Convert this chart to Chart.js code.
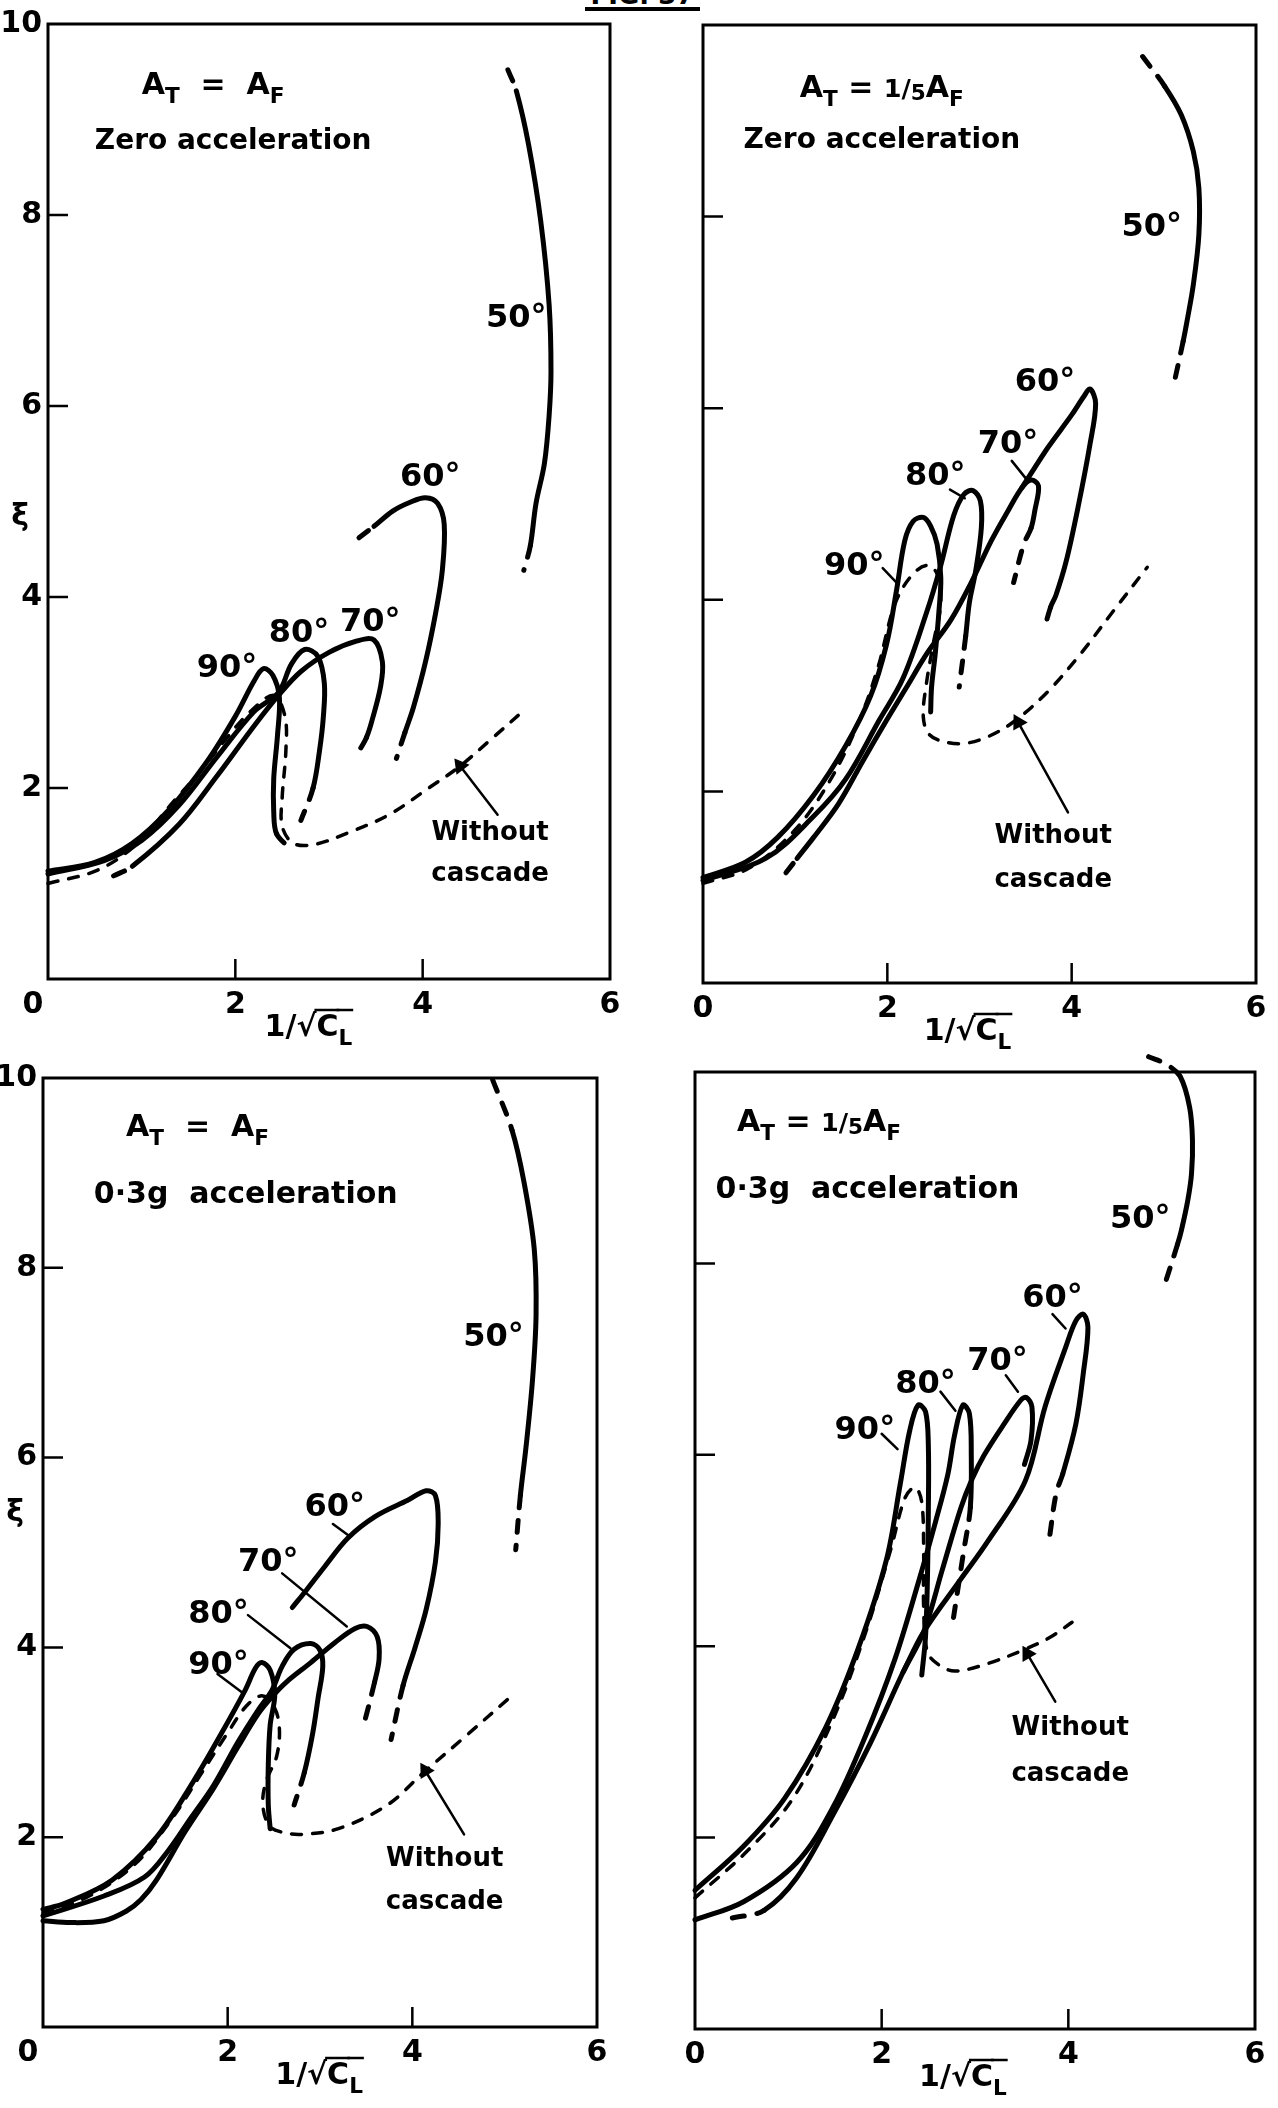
<!DOCTYPE html>
<html lang="en">
<head>
    <meta charset="UTF-8">
    <title>Cascade curves</title>
    <script src="https://cdn.jsdelivr.net/npm/chart.js"></script>
    <style>
        body { margin: 0; background: #fff; width: 1278px; height: 2108px; position: relative; overflow: hidden; }
        .panel { position: absolute; width: 639px; height: 1054px; }
        #figHead {
            position: absolute; left: 585px; top: -17px; width: 115px; height: 24px;
            font: bold 26px "DejaVu Sans", sans-serif; line-height: 24px; text-align: center;
            border-bottom: 4px solid #000;
        }
    </style>
</head>
<body>
    <div id="figHead">FIG. 37</div>
    <div class="panel" style="left:0;top:0"><canvas id="tl"></canvas></div>
    <div class="panel" style="left:639px;top:0"><canvas id="tr"></canvas></div>
    <div class="panel" style="left:0;top:1054px"><canvas id="bl"></canvas></div>
    <div class="panel" style="left:639px;top:1054px"><canvas id="br"></canvas></div>

    <script>
        // ---- axis ticks ----
        const xTicks = [0, 2, 4, 6];
        const yTicks = [0, 2, 4, 6, 8, 10];

        // ---- A_T = A_F, zero acceleration (top left) ----
        const tl90 = [[0,1.13],[0.5,1.22],[0.9,1.42],[1.3,1.78],[1.7,2.28],[2.0,2.75],[2.2,3.12],[2.3,3.25],[2.4,3.18],[2.47,2.95],[2.45,2.55],[2.41,2.1],[2.41,1.75],[2.44,1.52],[2.58,1.37]];
        const tl80 = [[0,1.1],[0.6,1.24],[1.0,1.45],[1.4,1.82],[1.8,2.32],[2.2,2.8],[2.46,3.0],[2.6,3.3],[2.74,3.45],[2.88,3.38],[2.95,3.1],[2.94,2.75],[2.9,2.4],[2.83,2.0],[2.7,1.66]];
        const tl70 = [[0.7,1.08],[0.9,1.18],[1.4,1.62],[1.8,2.12],[2.2,2.65],[2.46,2.97],[2.7,3.22],[3.0,3.42],[3.3,3.54],[3.48,3.55],[3.57,3.32],[3.55,3.06],[3.46,2.71],[3.4,2.53],[3.31,2.37]];
        const tl60 = [[3.32,4.62],[3.48,4.74],[3.68,4.9],[3.86,4.99],[4.03,5.04],[4.16,4.98],[4.23,4.76],[4.21,4.28],[4.14,3.84],[4.03,3.32],[3.9,2.84],[3.81,2.58],[3.72,2.31]];
        const tl50 = [[4.91,9.52],[5.0,9.3],[5.13,8.74],[5.26,7.94],[5.35,7.06],[5.37,6.36],[5.35,5.9],[5.3,5.4],[5.21,4.98],[5.15,4.54],[5.08,4.28]];
        const tlFree = [[0,1.0],[0.53,1.14],[0.93,1.4],[1.36,1.88],[1.63,2.18],[1.93,2.55],[2.15,2.79],[2.41,2.97],[2.53,2.75],[2.54,2.4],[2.5,1.9],[2.5,1.6],[2.62,1.42],[2.85,1.41],[3.2,1.53],[3.64,1.72],[4.08,2.01],[4.4,2.23],[4.73,2.51],[5.02,2.76]];

        // ---- A_T = 1/5 A_F, zero acceleration (top right) ----
        const tr90 = [[0,1.1],[0.46,1.26],[0.81,1.52],[1.2,1.96],[1.55,2.48],[1.82,3.0],[1.99,3.53],[2.1,4.1],[2.19,4.62],[2.28,4.82],[2.39,4.86],[2.47,4.77],[2.54,4.58],[2.58,4.23],[2.56,3.88],[2.52,3.44],[2.48,3.09],[2.47,2.83]];
        const tr80 = [[0,1.07],[0.68,1.3],[1.2,1.74],[1.55,2.13],[1.91,2.74],[2.17,3.18],[2.43,3.88],[2.58,4.36],[2.72,4.88],[2.83,5.1],[2.93,5.14],[3.01,5.03],[3.02,4.75],[2.96,4.31],[2.89,3.97],[2.85,3.62],[2.78,3.09]];
        const tr70 = [[0.9,1.15],[1.02,1.3],[1.2,1.52],[1.47,1.87],[1.73,2.31],[1.99,2.74],[2.21,3.09],[2.43,3.44],[2.69,3.79],[2.91,4.18],[3.13,4.62],[3.31,4.93],[3.46,5.17],[3.56,5.25],[3.64,5.19],[3.6,4.93],[3.56,4.75],[3.48,4.58],[3.37,4.18]];
        const tr60 = [[3.46,5.17],[3.6,5.38],[3.75,5.6],[4.0,5.93],[4.13,6.12],[4.2,6.2],[4.26,6.05],[4.2,5.63],[4.07,4.97],[3.94,4.4],[3.83,4.05],[3.77,3.92],[3.7,3.68]];
        const tr50 = [[4.77,9.67],[5.01,9.36],[5.19,9.06],[5.32,8.68],[5.38,8.3],[5.38,7.81],[5.32,7.29],[5.25,6.9],[5.21,6.7],[5.12,6.3]];
        const trFree = [[0,1.04],[0.5,1.2],[1.0,1.6],[1.4,2.15],[1.7,2.75],[1.9,3.3],[2.08,3.95],[2.26,4.25],[2.43,4.36],[2.54,4.27],[2.58,3.97],[2.5,3.55],[2.42,3.1],[2.39,2.78],[2.45,2.6],[2.61,2.52],[2.83,2.5],[3.09,2.57],[3.39,2.74],[3.75,3.05],[4.1,3.44],[4.45,3.88],[4.82,4.34]];

        // ---- A_T = A_F, 0.3g acceleration (bottom left) ----
        const bl90 = [[0,1.24],[0.23,1.3],[0.75,1.55],[1.23,2.0],[1.63,2.59],[1.93,3.09],[2.19,3.55],[2.3,3.78],[2.37,3.84],[2.46,3.76],[2.51,3.5],[2.46,3.18],[2.44,2.76],[2.44,2.34],[2.46,2.09]];
        const bl80 = [[0,1.17],[0.66,1.38],[1.1,1.58],[1.35,1.85],[1.6,2.2],[1.85,2.55],[2.11,3.0],[2.33,3.34],[2.48,3.55],[2.59,3.8],[2.72,3.98],[2.9,4.04],[3.0,3.97],[3.03,3.8],[2.98,3.47],[2.92,3.09],[2.83,2.68],[2.72,2.34]];
        const bl70 = [[0,1.12],[0.3,1.1],[0.66,1.12],[0.9,1.22],[1.06,1.34],[1.23,1.55],[1.54,2.06],[1.85,2.52],[2.11,2.95],[2.33,3.3],[2.48,3.48],[2.63,3.63],[2.9,3.84],[3.16,4.05],[3.38,4.2],[3.51,4.22],[3.62,4.11],[3.64,3.88],[3.59,3.63],[3.46,3.13]];
        const bl60 = [[2.7,4.42],[2.85,4.6],[3.05,4.85],[3.3,5.15],[3.6,5.38],[3.95,5.55],[4.15,5.65],[4.25,5.6],[4.28,5.3],[4.25,4.9],[4.15,4.4],[4.03,4.0],[3.9,3.6],[3.77,3.03]];
        const bl50 = [[4.87,9.98],[5.08,9.45],[5.21,8.9],[5.32,8.2],[5.34,7.5],[5.3,6.8],[5.23,6.1],[5.17,5.6],[5.12,5.03]];
        const blFree = [[0,1.2],[0.5,1.38],[1.0,1.72],[1.4,2.2],[1.7,2.65],[2.0,3.1],[2.2,3.38],[2.37,3.49],[2.5,3.38],[2.56,3.15],[2.53,2.85],[2.42,2.6],[2.38,2.35],[2.45,2.12],[2.6,2.05],[2.81,2.03],[3.2,2.09],[3.73,2.34],[4.12,2.68],[4.56,3.05],[5.1,3.51]];

        // ---- A_T = 1/5 A_F, 0.3g acceleration (bottom right) ----
        const br90 = [[0,1.45],[0.52,1.91],[0.96,2.41],[1.4,3.15],[1.75,3.98],[2.05,4.9],[2.2,5.7],[2.3,6.25],[2.39,6.52],[2.47,6.45],[2.5,6.1],[2.5,5.4],[2.49,4.69],[2.47,4.1],[2.43,3.7]];
        const br80 = [[0,1.14],[0.52,1.33],[1.09,1.74],[1.48,2.32],[1.83,3.07],[2.14,3.86],[2.4,4.69],[2.58,5.31],[2.71,5.8],[2.78,6.2],[2.87,6.52],[2.94,6.43],[2.96,6.0],[2.95,5.45],[2.88,5.0],[2.77,4.3]];
        const br70 = [[0.4,1.16],[0.74,1.24],[1.09,1.58],[1.48,2.24],[1.88,2.99],[2.23,3.73],[2.45,4.15],[2.65,4.8],[2.85,5.45],[2.97,5.75],[3.1,6.0],[3.31,6.32],[3.49,6.57],[3.55,6.6],[3.61,6.5],[3.6,6.15],[3.53,5.9]];
        const br60 = [[2.23,3.73],[2.45,4.15],[2.84,4.69],[3.14,5.1],[3.54,5.73],[3.75,6.5],[3.97,7.12],[4.08,7.4],[4.16,7.47],[4.21,7.33],[4.16,6.85],[4.08,6.32],[3.94,5.8],[3.87,5.6],[3.8,5.15]];
        const br50 = [[4.86,10.16],[5.05,10.08],[5.2,9.95],[5.3,9.63],[5.33,9.29],[5.32,8.94],[5.28,8.66],[5.21,8.34],[5.17,8.2],[5.02,7.74]];
        const brFree = [[0,1.37],[0.57,1.87],[1.05,2.41],[1.48,3.24],[1.83,4.15],[2.1,5.02],[2.25,5.55],[2.36,5.66],[2.43,5.5],[2.45,4.98],[2.45,4.4],[2.49,3.94],[2.62,3.8],[2.79,3.74],[3.14,3.82],[3.54,3.97],[3.8,4.09],[4.04,4.25]];

        const FONT = '"DejaVu Sans", "Liberation Sans", sans-serif';
        const AT_AF = [{t: 'A'}, {t: 'T', sub: true}, {t: '  =  '}, {t: 'A'}, {t: 'F', sub: true}];
        const AT_5AF = [{t: 'A'}, {t: 'T', sub: true}, {t: ' = '}, {t: '1/', k: 0.85}, {t: '5', k: 0.72, dy: 0.1}, {t: 'A'}, {t: 'F', sub: true}];
        const X_TITLE = [{t: '1/√'}, {t: 'C', over: true}, {t: 'L', sub: true, over: true}];

        // layout of each plot box inside its 639x1054 panel: top, left (= y axis width), right padding, x axis height
        const panels = [
            {
                id: 'tl', top: 23, yw: 48, pr: 29, xh: 75, yLabels: true, yTitle: 4.87, xTitle: 2.78,
                heads: [{x: 1.0, y: 9.38, parts: AT_AF, size: 30}, {x: 0.5, y: 8.8, parts: [{t: 'Zero acceleration'}], size: 28}],
                curves: [[tl90, 0, 1], [tl80, 0, 1], [tl70, 1, 1], [tl60, 1, 1], [tl50, 1, 1]], free: tlFree,
                angles: [['90°', 1.91, 3.28], ['80°', 2.68, 3.65], ['70°', 3.44, 3.76], ['60°', 4.08, 5.28], ['50°', 5.0, 6.95]],
                leaders: [], arrow: [[4.8, 1.72], [4.4, 2.23]], note: [4.72, 1.55, 1.12]
            },
            {
                id: 'tr', top: 25, yw: 64, pr: 22, xh: 71, yLabels: false, xTitle: 2.87,
                heads: [{x: 1.05, y: 9.36, parts: AT_5AF, size: 30}, {x: 0.44, y: 8.82, parts: [{t: 'Zero acceleration'}], size: 28}],
                curves: [[tr90, 0, 0], [tr80, 0, 1], [tr70, 1, 2], [tr60, 0, 1], [tr50, 1, 1]], free: trFree,
                angles: [['90°', 1.64, 4.38], ['80°', 2.52, 5.32], ['70°', 3.31, 5.65], ['60°', 3.71, 6.3], ['50°', 4.87, 7.92]],
                leaders: [[[1.95, 4.33], [2.1, 4.18]], [[2.68, 5.15], [2.84, 5.06]], [[3.35, 5.45], [3.5, 5.27]]],
                arrow: [[3.96, 1.78], [3.42, 2.72]], note: [3.8, 1.56, 1.1]
            },
            {
                id: 'bl', top: 14, yw: 43, pr: 42, xh: 81, yLabels: true, yTitle: 5.45, xTitle: 2.99,
                heads: [{x: 0.9, y: 9.5, parts: AT_AF, size: 30}, {x: 0.55, y: 8.8, parts: [{t: '0·3g  acceleration'}], size: 30}],
                curves: [[bl90, 0, 0], [bl80, 0, 1], [bl70, 0, 1], [bl60, 0, 1], [bl50, 1, 1]], free: blFree,
                angles: [['90°', 1.9, 3.84], ['80°', 1.9, 4.38], ['70°', 2.44, 4.93], ['60°', 3.16, 5.51], ['50°', 4.88, 7.3]],
                leaders: [[[1.89, 3.72], [2.15, 3.53]], [[2.22, 4.34], [2.68, 3.99]], [[2.59, 4.78], [3.29, 4.22]], [[3.14, 5.3], [3.31, 5.18]]],
                arrow: [[4.56, 2.03], [4.14, 2.7]], note: [4.35, 1.79, 1.34]
            },
            {
                id: 'br', top: 18, yw: 56, pr: 23, xh: 79, yLabels: false, xTitle: 2.87,
                heads: [{x: 0.45, y: 9.5, parts: AT_5AF, size: 30}, {x: 0.22, y: 8.8, parts: [{t: '0·3g  acceleration'}], size: 30}],
                curves: [[br90, 0, 0], [br80, 0, 2], [br70, 1, 0], [br60, 0, 2], [br50, 2, 1]], free: brFree,
                angles: [['90°', 1.82, 6.29], ['80°', 2.47, 6.77], ['70°', 3.24, 7.01], ['60°', 3.83, 7.67], ['50°', 4.77, 8.49]],
                leaders: [[[2.0, 6.22], [2.17, 6.06]], [[2.63, 6.66], [2.79, 6.46]], [[3.33, 6.83], [3.46, 6.66]], [[3.83, 7.47], [3.97, 7.32]]],
                arrow: [[3.86, 3.42], [3.56, 3.92]], note: [4.02, 3.17, 2.69]
            }
        ];

        // text with subscripts / overline, y is the middle of the main letters
        function drawParts(c, parts, x, y, size, align) {
            const items = parts.map(p => {
                const s = size * (p.k || ((p.sub || p.small) ? 0.72 : 1));
                c.font = `bold ${s}px ${FONT}`;
                return {p, s, w: c.measureText(p.t).width};
            });
            const total = items.reduce((a, it) => a + it.w, 0);
            let cx = align === 'center' ? x - total / 2 : x;
            const base = y + size * 0.36;
            c.textAlign = 'left';
            c.textBaseline = 'alphabetic';
            items.forEach(({p, s, w}) => {
                c.font = `bold ${s}px ${FONT}`;
                const dy = p.sub ? 0.3 : (p.dy || 0);
                c.fillText(p.t, cx, base + size * dy);
                if (p.over) {
                    c.lineWidth = 2.5;
                    c.beginPath();
                    c.moveTo(cx - 2, base - size * 0.86);
                    c.lineTo(cx + w + 1, base - size * 0.86);
                    c.stroke();
                }
                cx += w;
            });
        }

        function decor(p) {
            return {
                id: 'decor',
                afterDraw(chart) {
                    const c = chart.ctx, a = chart.chartArea;
                    const xs = chart.scales.x, ys = chart.scales.y;
                    const px = v => xs.getPixelForValue(v), py = v => ys.getPixelForValue(v);
                    c.save();
                    c.strokeStyle = '#000';
                    c.fillStyle = '#000';
                    c.lineWidth = 3;
                    c.strokeRect(a.left, a.top, a.right - a.left, a.bottom - a.top);
                    // ticks point into the plot
                    c.lineWidth = 2.5;
                    c.beginPath();
                    ys.ticks.forEach(t => {
                        if (t.value > 0 && t.value < 10) { c.moveTo(a.left, py(t.value)); c.lineTo(a.left + 20, py(t.value)); }
                    });
                    xs.ticks.forEach(t => {
                        if (t.value > 0 && t.value < 6) { c.moveTo(px(t.value), a.bottom); c.lineTo(px(t.value), a.bottom - 20); }
                    });
                    c.stroke();

                    p.heads.forEach(h => drawParts(c, h.parts, px(h.x), py(h.y), h.size, 'left'));
                    p.angles.forEach(([t, x, y]) => drawParts(c, [{t}], px(x), py(y), 32, 'center'));
                    drawParts(c, [{t: 'Without'}], px(p.note[0]), py(p.note[1]), 26, 'center');
                    drawParts(c, [{t: 'cascade'}], px(p.note[0]), py(p.note[2]), 26, 'center');
                    drawParts(c, X_TITLE, px(p.xTitle), a.bottom + 46, 30, 'center');
                    if (p.yTitle) drawParts(c, [{t: 'ξ'}], a.left - 28, py(p.yTitle), 30, 'center');
                    c.restore();
                }
            };
        }

        function line(pts, width, opts) {
            return Object.assign({
                data: pts.map(([x, y]) => ({x, y})),
                showLine: true,
                borderColor: '#000',
                borderWidth: width,
                borderCapStyle: 'round',
                borderJoinStyle: 'round',
                pointRadius: 0,
                tension: 0.35,
                clip: false
            }, opts || {});
        }

        function curve([pts, head, tail]) {
            const n = pts.length;
            return line(pts, 5, {
                segment: {
                    borderDash: s => (s.p0DataIndex < head || s.p0DataIndex >= n - 1 - tail) ? [12, 13] : undefined
                }
            });
        }

        function arrow([from, to]) {
            return line([from, to], 2.5, {
                tension: 0,
                pointRadius: [0, 7],
                pointStyle: 'triangle',
                pointBackgroundColor: '#000',
                pointBorderColor: '#000',
                pointRotation: ctx => {
                    const xs = ctx.chart.scales.x, ys = ctx.chart.scales.y;
                    if (!xs || !ys) return 0;
                    const dx = xs.getPixelForValue(to[0]) - xs.getPixelForValue(from[0]);
                    const dy = ys.getPixelForValue(to[1]) - ys.getPixelForValue(from[1]);
                    return Math.atan2(dx, -dy) * 180 / Math.PI;
                }
            });
        }

        panels.forEach(p => {
            const datasets = p.curves.map(curve);
            datasets.push(line(p.free, 3.5, {borderDash: [10, 11]}));
            p.leaders.forEach(l => datasets.push(line(l, 2.5, {tension: 0})));
            datasets.push(arrow(p.arrow));

            const tickFont = {family: FONT, size: 30, weight: 'bold'};
            new Chart(document.getElementById(p.id), {
                type: 'scatter',
                data: {datasets},
                options: {
                    responsive: true,
                    maintainAspectRatio: false,
                    animation: false,
                    events: [],
                    layout: {padding: {left: 0, top: p.top, right: p.pr, bottom: 0}},
                    plugins: {legend: {display: false}, tooltip: {enabled: false}},
                    scales: {
                        x: {
                            type: 'linear', min: xTicks[0], max: xTicks[xTicks.length - 1],
                            afterFit: s => { s.height = p.xh; },
                            grid: {display: false, drawTicks: false},
                            border: {display: false},
                            afterBuildTicks: s => { s.ticks = xTicks.map(v => ({value: v})); },
                            ticks: {
                                padding: 8, color: '#000', font: tickFont, maxRotation: 0, autoSkip: false,
                                // the origin label sits left of the corner on the left-hand panels
                                callback: v => (v === 0 && p.yLabels) ? '0\u2003' : v
                            }
                        },
                        y: {
                            type: 'linear', min: yTicks[0], max: yTicks[yTicks.length - 1],
                            afterFit: s => { s.width = p.yw; },
                            grid: {display: false, drawTicks: false},
                            border: {display: false},
                            afterBuildTicks: s => { s.ticks = yTicks.map(v => ({value: v})); },
                            ticks: {
                                display: p.yLabels, padding: 6, color: '#000', font: tickFont, autoSkip: false,
                                callback: v => v === 0 ? '' : v
                            }
                        }
                    }
                },
                plugins: [decor(p)]
            });
        });
    </script>
</body>
</html>
